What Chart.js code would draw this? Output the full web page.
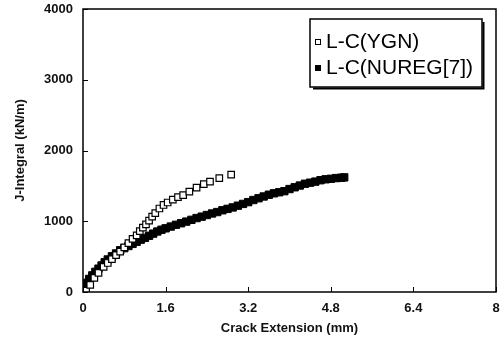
<!DOCTYPE html>
<html lang="en">
<head>
    <meta charset="UTF-8">
    <title>J-Integral vs Crack Extension</title>
    <script src="https://cdn.jsdelivr.net/npm/chart.js"></script>
    <style>
        html, body { margin: 0; padding: 0; background: #fff; }
        #wrap { width: 503px; height: 343px; }
    </style>
</head>
<body>
    <div id="wrap"><canvas id="jChart" width="503" height="343"></canvas></div>

    <script>
        // L-C(YGN), open squares
        const ygnX = [0.06, 0.14, 0.22, 0.30, 0.40, 0.48, 0.56, 0.64, 0.72, 0.80, 0.88, 0.96, 1.04, 1.10, 1.16, 1.22, 1.28, 1.34, 1.40, 1.48, 1.56, 1.64, 1.74, 1.84, 1.94, 2.06, 2.20, 2.34, 2.46, 2.64, 2.87];
        const ygnY = [20, 100, 200, 270, 355, 410, 465, 520, 570, 630, 690, 750, 800, 860, 910, 955, 1010, 1064, 1115, 1180, 1230, 1265, 1305, 1340, 1370, 1420, 1475, 1525, 1560, 1610, 1660];

        // L-C(NUREG[7]), filled squares
        const nuregX = [0.00, 0.04, 0.08, 0.12, 0.18, 0.24, 0.30, 0.36, 0.42, 0.48, 0.56, 0.64, 0.72, 0.80, 0.88, 0.96, 1.04, 1.12, 1.20, 1.28, 1.36, 1.44, 1.52, 1.60, 1.70, 1.80, 1.90, 2.00, 2.10, 2.20, 2.30, 2.40, 2.50, 2.60, 2.70, 2.80, 2.90, 3.00, 3.10, 3.20, 3.30, 3.40, 3.50, 3.60, 3.70, 3.80, 3.90, 4.00, 4.10, 4.20, 4.30, 4.40, 4.50, 4.60, 4.70, 4.80, 4.90, 5.00, 5.06];
        const nuregY = [0, 60, 130, 185, 235, 285, 330, 375, 420, 460, 505, 545, 590, 620, 650, 680, 710, 740, 765, 795, 825, 855, 880, 900, 925, 950, 972, 995, 1020, 1045, 1065, 1088, 1110, 1130, 1155, 1175, 1195, 1220, 1245, 1270, 1300, 1325, 1350, 1375, 1395, 1410, 1425, 1455, 1480, 1505, 1530, 1545, 1560, 1580, 1593, 1600, 1610, 1615, 1620];

        const xTicks = [0, 1.6, 3.2, 4.8, 6.4, 8];
        const yTicks = [0, 1000, 2000, 3000, 4000];
        const seriesNames = ['L-C(YGN)', 'L-C(NUREG[7])'];

        const toPoints = (xs, ys) => xs.map((x, i) => ({ x: x, y: ys[i] }));
        const FONT = '"Liberation Sans", Arial, sans-serif';

        // inward ticks, full frame and the boxed legend
        const framePlugin = {
            id: 'frame',
            afterDraw(chart) {
                const c = chart.ctx;
                const a = chart.chartArea;
                const sx = chart.scales.x, sy = chart.scales.y;
                c.save();
                c.strokeStyle = '#000';
                c.lineWidth = 1.5;
                c.strokeRect(a.left, a.top, a.right - a.left, a.bottom - a.top);
                c.lineWidth = 1;
                c.beginPath();
                xTicks.forEach(v => {
                    const px = Math.round(sx.getPixelForValue(v)) + 0.5;
                    c.moveTo(px, a.bottom); c.lineTo(px, a.bottom - 5);
                });
                yTicks.forEach(v => {
                    const py = Math.round(sy.getPixelForValue(v)) + 0.5;
                    c.moveTo(a.left, py); c.lineTo(a.left + 5, py);
                });
                c.stroke();

                // legend box
                const bx = 310, by = 19, bw = 172, bh = 68;
                c.fillStyle = '#fff';
                c.fillRect(bx, by, bw, bh);
                c.lineWidth = 1.5;
                c.strokeRect(bx, by, bw, bh);
                c.lineWidth = 2;
                c.beginPath();
                c.moveTo(bx + bw + 1.5, by + 3); c.lineTo(bx + bw + 1.5, by + bh + 1.5); c.lineTo(bx + 3, by + bh + 1.5);
                c.stroke();

                c.font = '21px ' + FONT;
                c.fillStyle = '#000';
                c.textBaseline = 'middle';
                c.fillText(seriesNames[0], 326, 42);
                c.fillText(seriesNames[1], 326, 68);
                c.lineWidth = 1;
                c.strokeRect(315.5, 39.5, 5, 5);
                c.fillRect(315, 65, 6, 6);
                c.restore();
            }
        };

        new Chart(document.getElementById('jChart').getContext('2d'), {
            type: 'scatter',
            data: {
                datasets: [
                    {
                        label: seriesNames[0],
                        data: toPoints(ygnX, ygnY),
                        pointStyle: 'rect',
                        pointRadius: 4.6,
                        pointBackgroundColor: '#fff',
                        pointBorderColor: '#000',
                        pointBorderWidth: 1.2
                    },
                    {
                        label: seriesNames[1],
                        data: toPoints(nuregX, nuregY),
                        pointStyle: 'rect',
                        pointRadius: 5.2,
                        pointBackgroundColor: '#000',
                        pointBorderColor: '#000',
                        pointBorderWidth: 1
                    }
                ]
            },
            options: {
                responsive: false,
                animation: false,
                layout: { padding: { top: 9, right: 7, left: 0, bottom: 0 } },
                plugins: { legend: { display: false }, tooltip: { enabled: false } },
                scales: {
                    x: {
                        type: 'linear',
                        min: 0, max: 8,
                        afterBuildTicks: s => { s.ticks = xTicks.map(v => ({ value: v })); },
                        afterFit: s => { s.height = 51; s.paddingLeft = 0; s.paddingRight = 0; },
                        grid: { display: false, drawTicks: false },
                        border: { display: false },
                        ticks: {
                            padding: 9,
                            color: '#111',
                            font: { family: FONT, size: 13, weight: 'bold' },
                            callback: v => String(v)
                        },
                        title: {
                            display: true,
                            text: 'Crack Extension (mm)',
                            color: '#111',
                            font: { family: FONT, size: 13, weight: 'bold' },
                            padding: { top: 0, bottom: 7 }
                        }
                    },
                    y: {
                        type: 'linear',
                        min: 0, max: 4000,
                        afterBuildTicks: s => { s.ticks = yTicks.map(v => ({ value: v })); },
                        afterFit: s => { s.width = 83; s.paddingTop = 0; s.paddingBottom = 0; },
                        grid: { display: false, drawTicks: false },
                        border: { display: false },
                        ticks: {
                            padding: 10,
                            color: '#111',
                            font: { family: FONT, size: 13, weight: 'bold' },
                            callback: v => String(v)
                        },
                        title: {
                            display: true,
                            text: 'J-Integral (kN/m)',
                            color: '#111',
                            font: { family: FONT, size: 13, weight: 'bold' },
                            padding: { top: 13, bottom: 0 }
                        }
                    }
                }
            },
            plugins: [framePlugin]
        });
    </script>
</body>
</html>
